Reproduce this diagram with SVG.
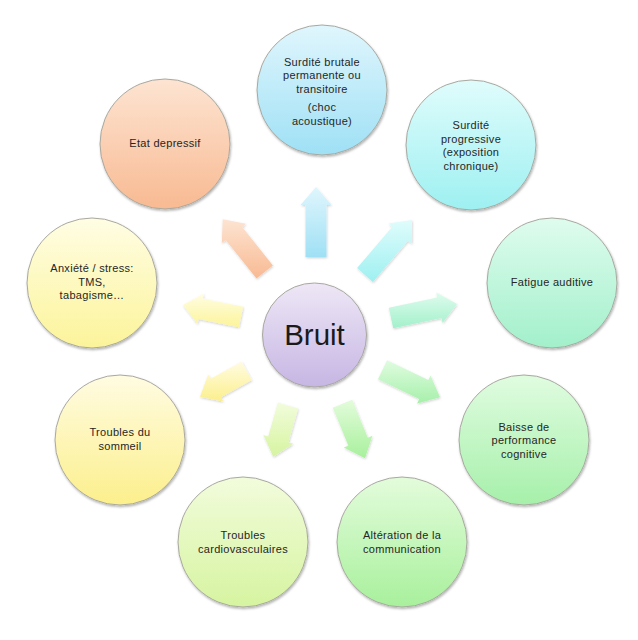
<svg xmlns="http://www.w3.org/2000/svg" width="638" height="640" viewBox="0 0 638 640">
<style>
.node{stroke:#a8a8a0;stroke-width:1;filter:url(#sh)}
.lbl{font-family:"Liberation Sans",Arial,sans-serif;font-size:11px;letter-spacing:0.3px;fill:#262626;text-anchor:middle}
.big{font-family:"Liberation Sans",Arial,sans-serif;font-size:29.5px;fill:#1a1a1a;text-anchor:middle}
.arr{filter:url(#sh2)}
</style>
<defs>
<filter id="sh" x="-20%" y="-20%" width="140%" height="140%"><feDropShadow dx="0.8" dy="1.6" stdDeviation="1.2" flood-color="#000" flood-opacity="0.3"/></filter>
<filter id="sh2" x="-20%" y="-20%" width="140%" height="140%"><feDropShadow dx="0.6" dy="1.2" stdDeviation="0.8" flood-color="#000" flood-opacity="0.18"/></filter>
<linearGradient id="gBruit" x1="0" y1="0" x2="0" y2="1"><stop offset="0" stop-color="#eee7f6"/><stop offset="1" stop-color="#c6b6e3"/></linearGradient>
<linearGradient id="gBlue" x1="0" y1="0" x2="0" y2="1"><stop offset="0" stop-color="#e0f6fd"/><stop offset="1" stop-color="#9fe0f5"/></linearGradient>
<linearGradient id="gCyan" x1="0" y1="0" x2="0" y2="1"><stop offset="0" stop-color="#e0fcfc"/><stop offset="1" stop-color="#9ef0f1"/></linearGradient>
<linearGradient id="gMint" x1="0" y1="0" x2="0" y2="1"><stop offset="0" stop-color="#dffcee"/><stop offset="1" stop-color="#a2f0cb"/></linearGradient>
<linearGradient id="gGreen1" x1="0" y1="0" x2="0" y2="1"><stop offset="0" stop-color="#e0fce0"/><stop offset="1" stop-color="#a6f0aa"/></linearGradient>
<linearGradient id="gGreen2" x1="0" y1="0" x2="0" y2="1"><stop offset="0" stop-color="#e3fcdb"/><stop offset="1" stop-color="#a8f09c"/></linearGradient>
<linearGradient id="gLime" x1="0" y1="0" x2="0" y2="1"><stop offset="0" stop-color="#f2fcdc"/><stop offset="1" stop-color="#d6f4a0"/></linearGradient>
<linearGradient id="gYel1" x1="0" y1="0" x2="0" y2="1"><stop offset="0" stop-color="#fffce2"/><stop offset="1" stop-color="#fcef8c"/></linearGradient>
<linearGradient id="gYel2" x1="0" y1="0" x2="0" y2="1"><stop offset="0" stop-color="#fffde4"/><stop offset="1" stop-color="#fcf49a"/></linearGradient>
<linearGradient id="gOrange" x1="0" y1="0" x2="0" y2="1"><stop offset="0" stop-color="#fde4d2"/><stop offset="1" stop-color="#f8ba92"/></linearGradient>
</defs>

<g id="connectors">
<polygon class="arr" fill="url(#gBlue)" points="326.5,257 326.5,205 331.5,205 316,187 300.5,205 305.5,205 305.5,257"/>
<polygon class="arr" fill="url(#gCyan)" points="372.9,281.9 408.1,240.5 411.9,243.8 412,220 388.5,223.4 392.3,226.7 357.1,268.1"/>
<polygon class="arr" fill="url(#gMint)" points="393.2,328.3 441.6,318 442.6,322.9 457,304 436.2,292.5 437.2,297.4 388.8,307.7"/>
<polygon class="arr" fill="url(#gGreen1)" points="378,379.2 419.2,399 417.1,403.5 440,397.3 430.5,375.5 428.3,380 387.1,360.2"/>
<polygon class="arr" fill="url(#gGreen2)" points="332.8,407.7 348.4,445.7 343.8,447.6 365,458.3 372.4,435.8 367.8,437.7 352.2,399.7"/>
<polygon class="arr" fill="url(#gLime)" points="277.9,402.6 268.2,436.5 263.4,435.1 273.3,456.7 293.2,443.7 288.4,442.3 298.1,408.4"/>
<polygon class="arr" fill="url(#gYel1)" points="241.6,361.6 210.7,378.8 208.2,374.4 200,396.7 223.3,401.6 220.8,397.2 251.8,380"/>
<polygon class="arr" fill="url(#gYel2)" points="243.1,306.7 202.8,298.4 203.8,293.5 183,305 197.5,323.9 198.5,319 238.9,327.3"/>
<polygon class="arr" fill="url(#gOrange)" points="272.9,265.5 242.1,226.9 246,223.7 222.7,219.3 221.8,243.1 225.7,239.9 256.5,278.5"/>
</g>

<g id="bruit">
<circle class="node" cx="314.5" cy="335" r="52" fill="url(#gBruit)"/>
<text class="big" x="314.5" y="345">Bruit</text>
</g>

<g id="surdite-brutale">
<circle class="node" cx="322" cy="90" r="65" fill="url(#gBlue)"/>
<text class="lbl"><tspan x="322" y="65.5">Surdité brutale</tspan><tspan x="322" y="79">permanente ou</tspan><tspan x="322" y="92.5">transitoire</tspan><tspan x="322" y="111">(choc</tspan><tspan x="322" y="124.5">acoustique)</tspan></text>
</g>

<g id="surdite-progressive">
<circle class="node" cx="471" cy="145" r="65" fill="url(#gCyan)"/>
<text class="lbl"><tspan x="471" y="129">Surdité</tspan><tspan x="471" y="142.5">progressive</tspan><tspan x="471" y="156">(exposition</tspan><tspan x="471" y="169.5">chronique)</tspan></text>
</g>

<g id="fatigue">
<circle class="node" cx="552" cy="283" r="65" fill="url(#gMint)"/>
<text class="lbl" x="552" y="286">Fatigue auditive</text>
</g>

<g id="baisse">
<circle class="node" cx="524" cy="440" r="65" fill="url(#gGreen1)"/>
<text class="lbl"><tspan x="524" y="430.5">Baisse de</tspan><tspan x="524" y="444">performance</tspan><tspan x="524" y="457.5">cognitive</tspan></text>
</g>

<g id="alteration">
<circle class="node" cx="402" cy="542" r="65" fill="url(#gGreen2)"/>
<text class="lbl"><tspan x="402" y="539">Altération de la</tspan><tspan x="402" y="552.5">communication</tspan></text>
</g>

<g id="cardio">
<circle class="node" cx="243" cy="542" r="65" fill="url(#gLime)"/>
<text class="lbl"><tspan x="243" y="539">Troubles</tspan><tspan x="243" y="552.5">cardiovasculaires</tspan></text>
</g>

<g id="sommeil">
<circle class="node" cx="120" cy="440" r="65" fill="url(#gYel1)"/>
<text class="lbl"><tspan x="120" y="436">Troubles du</tspan><tspan x="120" y="449.5">sommeil</tspan></text>
</g>

<g id="anxiete">
<circle class="node" cx="92" cy="283" r="65" fill="url(#gYel2)"/>
<text class="lbl"><tspan x="92" y="272">Anxiété / stress:</tspan><tspan x="92" y="285.5">TMS,</tspan><tspan x="92" y="299">tabagisme…</tspan></text>
</g>

<g id="etat">
<circle class="node" cx="165" cy="144" r="65" fill="url(#gOrange)"/>
<text class="lbl" x="165" y="147">Etat depressif</text>
</g>
</svg>
